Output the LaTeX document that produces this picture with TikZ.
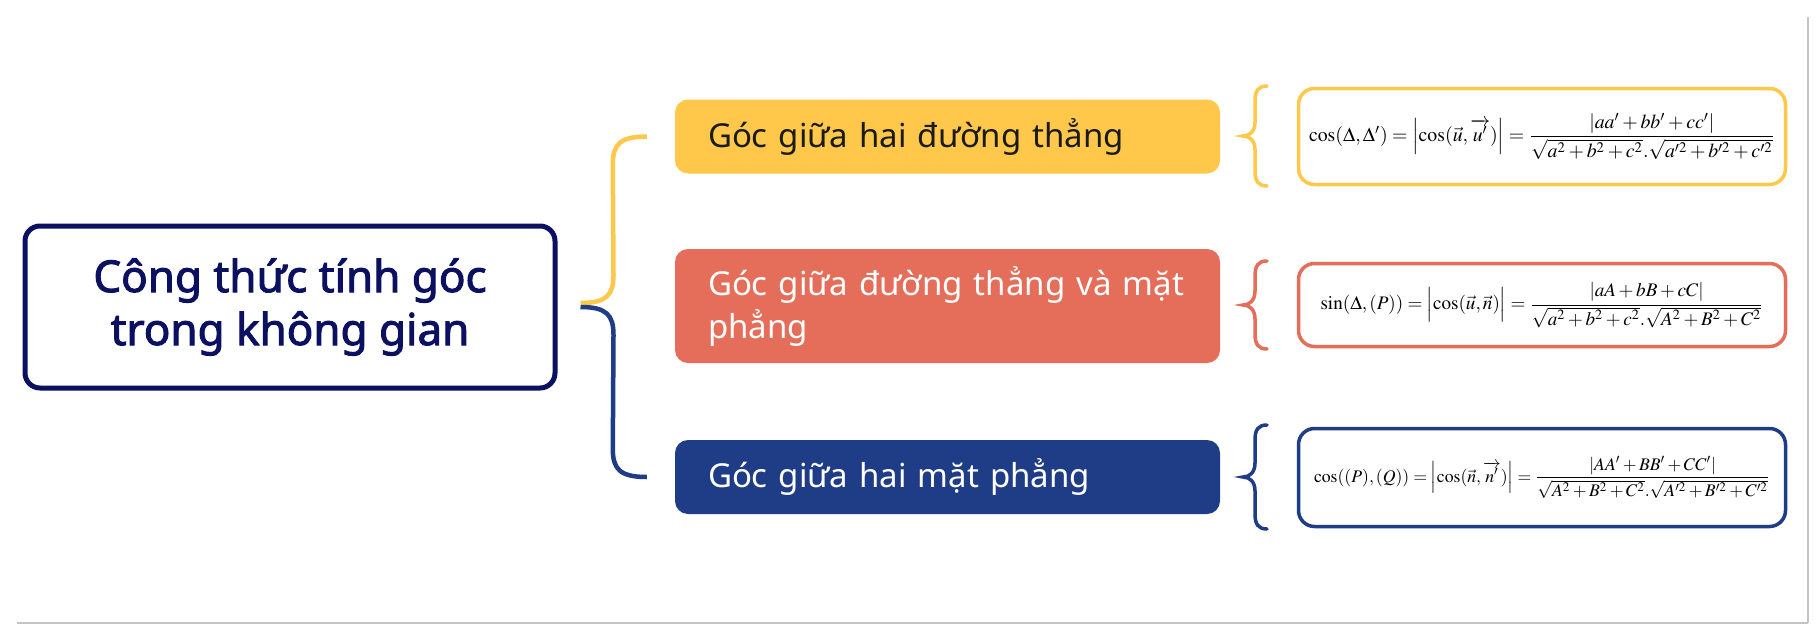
\documentclass[tikz,border=0pt]{standalone}
\usepackage{amsmath}
\usepackage{mathptmx}
\usepackage[no-math]{fontspec}
\usepackage{graphicx}
\setmainfont{Noto Sans}[AutoFakeBold=2.2]
\usetikzlibrary{calc}
\definecolor{navy}{HTML}{0B1060}
\definecolor{yellowc}{HTML}{FFC84A}
\definecolor{orangec}{HTML}{E46E59}
\definecolor{bluec}{HTML}{1F3D87}
\definecolor{darktext}{HTML}{1A1A1A}
\definecolor{framegray}{HTML}{C4C4C4}
\newcommand{\smbrace}[3]{%
  \pgfmathsetmacro{\bmid}{(#1+#2)/2}%
  \draw[bracestroke,#3] (1267,#1) .. controls (1258,#1) and (1255,#1+5) .. (1255,#1+15)
    -- (1255,\bmid-14) .. controls (1255,\bmid-5) and (1250,\bmid) .. (1243,\bmid)
    .. controls (1250,\bmid) and (1255,\bmid+5) .. (1255,\bmid+14)
    -- (1255,#2-15) .. controls (1255,#2-5) and (1258,#2) .. (1267,#2);}
\begin{document}
\begin{tikzpicture}[x=1pt,y=-1pt,
  mainbox/.style={draw=navy,line width=5pt,rounded corners=15pt,fill=white,
    minimum width=530pt,minimum height=162pt,align=center,text=navy,
    font=\fontsize{44}{53}\selectfont\bfseries},
  branch/.style={rounded corners=13pt,minimum width=545pt,
    text width=479pt,inner xsep=33pt,align=left,
    font=\fontsize{33}{43}\selectfont},
  fbox/.style={draw=#1,line width=3.5pt,rounded corners=16pt,fill=white,
    minimum width=487pt,inner sep=0pt},
  link/.style={line width=4.5pt},
  bracestroke/.style={line width=3.5pt,line cap=round}]
\useasboundingbox (0,0) rectangle (1819,634);
\fill[white] (0,0) rectangle (1819,634);
% frame lines
\draw[framegray,line width=1.2pt] (17,623) -- (1808,623);
\draw[framegray,line width=1.2pt] (1808,17) -- (1808,623);

% main node
\node[mainbox] (main) at (290,307) {Công thức tính góc\\trong không gian};

% branch nodes
\node[branch,fill=yellowc,text=darktext,minimum height=74pt] (b1) at (947.5,136.5)
  {Góc giữa hai đường thẳng};
\node[branch,fill=orangec,text=white,minimum height=114pt] (b2) at (947.5,306)
  {\mbox{Góc giữa đường thẳng và mặt}\\phẳng};
\node[branch,fill=bluec,text=white,minimum height=74pt] (b3) at (947.5,477)
  {Góc giữa hai mặt phẳng};

% connectors
\coordinate (hubY) at ($(main.east)+(23,-4)$);
\coordinate (hubB) at ($(main.east)+(23,0)$);
\coordinate (endY) at ($(b1.west)+(-28,0)$);
\coordinate (endB) at ($(b3.west)+(-28,0)$);
\draw[link,yellowc] (hubY) .. controls ($(hubY)+(26,0)$) and ($(hubY)+(33,-8)$) .. ($(hubY)+(33,-28)$)
  -- ($(endY)+(-34,28)$) .. controls ($(endY)+(-34,8)$) and ($(endY)+(-27,0)$) .. (endY);
\draw[link,bluec] (hubB) .. controls ($(hubB)+(26,0)$) and ($(hubB)+(33,8)$) .. ($(hubB)+(33,28)$)
  -- ($(endB)+(-34,-28)$) .. controls ($(endB)+(-34,-8)$) and ($(endB)+(-27,0)$) .. (endB);

% small braces
\smbrace{86}{186}{yellowc}
\smbrace{261}{349}{orangec}
\smbrace{425}{529}{bluec}

% formula boxes
\node[fbox=yellowc,minimum height=96pt] (f1) at (1542,136.5)
  {\resizebox{466pt}{!}{$\cos(\Delta,\Delta')=\Bigl|\cos(\vec{u},\overrightarrow{u'})\Bigr|=\dfrac{\left|aa'+bb'+cc'\right|}{\sqrt{a^2+b^2+c^2}.\sqrt{a'^2+b'^2+c'^2}}$}};
\node[fbox=orangec,minimum height=83pt] (f2) at (1542,305)
  {\resizebox{443pt}{!}{$\sin(\Delta,(P))=\Bigl|\cos(\vec{u},\vec{n})\Bigr|=\dfrac{\left|aA+bB+cC\right|}{\sqrt{a^2+b^2+c^2}.\sqrt{A^2+B^2+C^2}}$}};
\node[fbox=bluec,minimum height=98pt] (f3) at (1542,477.5)
  {\resizebox{456pt}{!}{$\cos((P),(Q))=\Bigl|\cos(\vec{n},\overrightarrow{n'})\Bigr|=\dfrac{\left|AA'+BB'+CC'\right|}{\sqrt{A^2+B^2+C^2}.\sqrt{A'^2+B'^2+C'^2}}$}};
\end{tikzpicture}
\end{document}
